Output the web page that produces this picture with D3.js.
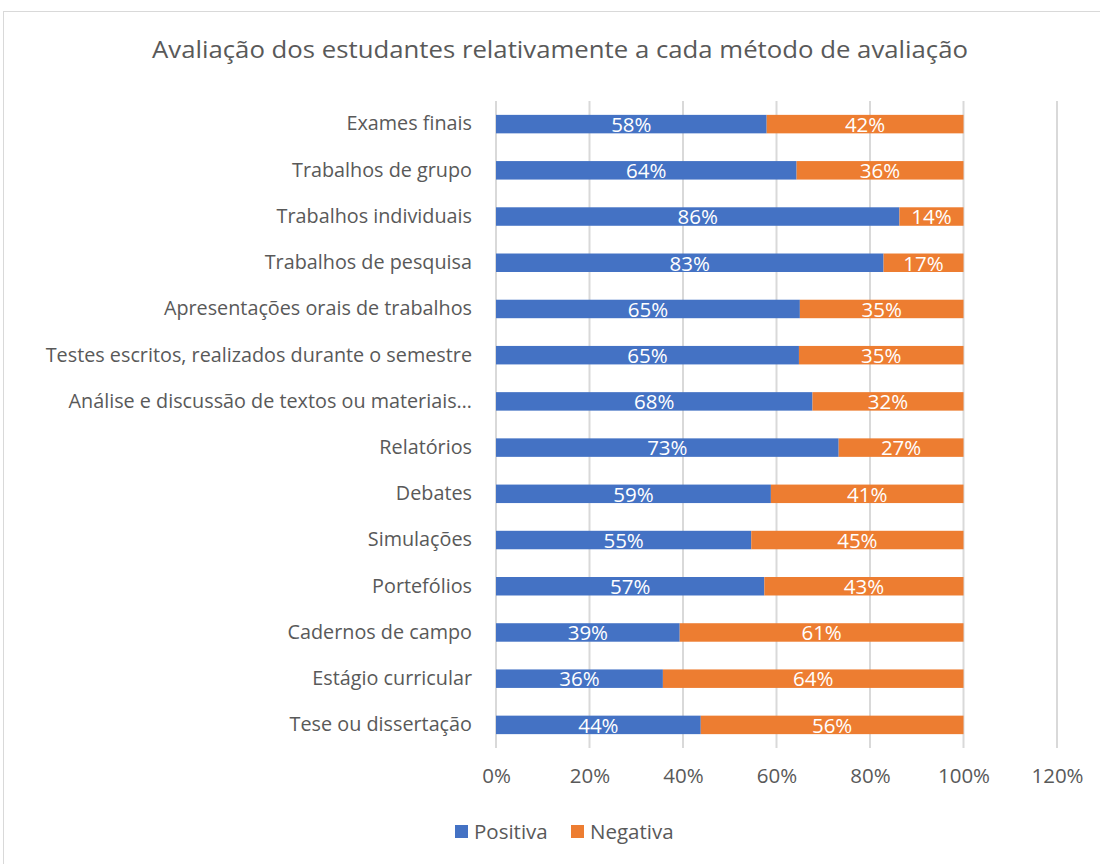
<!DOCTYPE html>
<html>
<head>
<meta charset="utf-8">
<script src="https://cdn.jsdelivr.net/npm/d3@7"></script>
<style>
  body { margin: 0; background: #fff; }
  text { font-family: "Open Sans", sans-serif; }
</style>
</head>
<body>
<div id="chart"></div>
<script>
// data
const categories = [
  "Exames finais",
  "Trabalhos de grupo",
  "Trabalhos individuais",
  "Trabalhos de pesquisa",
  "Apresentações orais de trabalhos",
  "Testes escritos, realizados durante o semestre",
  "Análise e discussão de textos ou materiais…",
  "Relatórios",
  "Debates",
  "Simulações",
  "Portefólios",
  "Cadernos de campo",
  "Estágio curricular",
  "Tese ou dissertação"
]
const positiva = [57.9, 64.3, 86.3, 82.9, 65.0, 64.8, 67.7, 73.3, 58.8, 54.6, 57.4, 39.3, 35.7, 43.8]
const negativa = [42.1, 35.7, 13.7, 17.1, 35.0, 35.2, 32.3, 26.7, 41.2, 45.4, 42.6, 60.7, 64.3, 56.2]
const xTicks = [0, 20, 40, 60, 80, 100, 120]
const seriesNames = ["Positiva", "Negativa"]
const colors = ["#4472c4", "#ed7d31"]

const W = 1100, H = 864
const margin = { top: 101, right: 43, bottom: 116, left: 496 }
const width = W - margin.left - margin.right
const height = H - margin.top - margin.bottom
const fontFam = '"Open Sans", sans-serif'

const root = d3.select('#chart').append('svg')
  .attr('width', W)
  .attr('height', H)

// chart border
root.append('rect')
  .attr('x', 3.5).attr('y', 11.5)
  .attr('width', W - 3).attr('height', H - 8)
  .attr('fill', 'none')
  .attr('stroke', '#d9d9d9')
  .attr('stroke-width', 1)

root.append('text')
  .attr('x', 560).attr('y', 58)
  .attr('text-anchor', 'middle')
  .attr('font-size', 23)
  .attr('fill', '#595959')
  .attr('textLength', 816)
  .attr('lengthAdjust', 'spacingAndGlyphs')
  .text("Avaliação dos estudantes relativamente a cada método de avaliação")

const svg = root.append('g')
  .attr('transform', `translate(${margin.left}, ${margin.top})`)

const xScale = d3.scaleLinear().domain([0, 120]).range([0, width])
const yScale = d3.scaleBand().domain(categories).range([0, height]).paddingInner(0.6).paddingOuter(0.3)

// gridlines
svg.append('g').selectAll('line')
  .data(xTicks)
  .enter()
  .append('line')
  .attr('x1', d => xScale(d)).attr('x2', d => xScale(d))
  .attr('y1', 0).attr('y2', height)
  .attr('stroke', '#d9d9d9')
  .attr('stroke-width', 2)

// stacked data
const rows = categories.map((c, i) => ({ cat: c, Positiva: positiva[i], Negativa: negativa[i] }))
const stack = d3.stack().keys(seriesNames)(rows)

const layers = svg.selectAll('.layer')
  .data(stack)
  .enter()
  .append('g')
  .attr('fill', (d, i) => colors[i])

layers.selectAll('rect')
  .data(d => d)
  .enter()
  .append('rect')
  .attr('x', d => xScale(d[0]))
  .attr('y', d => yScale(d.data.cat))
  .attr('width', d => xScale(d[1]) - xScale(d[0]))
  .attr('height', yScale.bandwidth())

layers.selectAll('text')
  .data(d => d)
  .enter()
  .append('text')
  .attr('x', d => (xScale(d[0]) + xScale(d[1])) / 2)
  .attr('y', d => yScale(d.data.cat) + yScale.bandwidth() / 2)
  .attr('dy', '0.38em')
  .attr('text-anchor', 'middle')
  .attr('font-size', 20.5)
  .attr('fill', '#fff')
  .text(d => Math.round(d[1] - d[0]) + '%')

// y axis labels
const yAxis = d3.axisLeft(yScale).tickSize(0).tickPadding(24)
const yAxisGroup = svg.append('g').call(yAxis)
yAxisGroup.select('.domain').remove()
yAxisGroup.selectAll('text')
  .attr('font-size', 19.8)
  .attr('fill', '#595959')
  .style('font-family', fontFam)

// x axis
const xAxis = d3.axisBottom(xScale).tickValues(xTicks).tickSize(0).tickPadding(20).tickFormat(d => d + '%')
const xAxisGroup = svg.append('g')
  .attr('transform', `translate(0, ${height})`)
  .call(xAxis)
xAxisGroup.select('.domain').remove()
xAxisGroup.selectAll('text')
  .attr('font-size', 20.5)
  .attr('fill', '#595959')
  .style('font-family', fontFam)

// legend
const legend = root.append('g').attr('transform', 'translate(455, 832)')
const legendX = [0, 116]
seriesNames.forEach((s, i) => {
  legend.append('rect')
    .attr('x', legendX[i]).attr('y', -7)
    .attr('width', 13).attr('height', 13)
    .attr('fill', colors[i])
  legend.append('text')
    .attr('x', legendX[i] + 19).attr('y', 0)
    .attr('dy', '0.36em')
    .attr('font-size', 20.5)
    .attr('fill', '#595959')
    .text(s)
})
</script>
</body>
</html>
